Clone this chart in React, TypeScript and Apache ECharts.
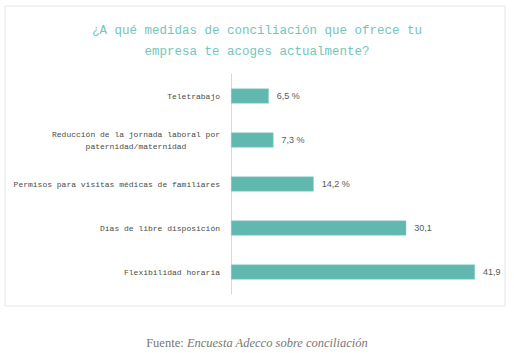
import React, { useEffect, useRef } from "react";
import * as echarts from "echarts";

const categories = [
  "Teletrabajo",
  "Reducción de la jornada laboral por\npaternidad/maternidad",
  "Permisos para visitas médicas de familiares",
  "Días de libre disposición",
  "Flexibilidad horaria",
];
const values = [6.5, 7.3, 14.2, 30.1, 41.9];
const valueLabels = ["6,5 %", "7,3 %", "14,2 %", "30,1", "41,9"];
const titleText = "¿A qué medidas de conciliación que ofrece tu\nempresa te acoges actualmente?";
const sourcePrefix = "Fuente: ";
const sourceText = "Encuesta Adecco sobre conciliación";

export default function App() {
  const ref = useRef<HTMLDivElement>(null);
  useEffect(() => {
    document.body.style.margin = "0";
    const chart = echarts.init(ref.current!, null, { renderer: "svg" });
    chart.setOption({
      animation: false,
      backgroundColor: "#ffffff",
      graphic: [
        {
          type: "rect",
          shape: { x: 5, y: 6, width: 500, height: 300 },
          style: { fill: "none", stroke: "#e6e6e6", lineWidth: 1 },
          silent: true,
        },
      ],
      title: [
        {
          text: titleText,
          left: "center",
          top: 15,
          textStyle: {
            fontFamily: "Liberation Mono",
            fontSize: 12.5,
            fontWeight: "normal",
            color: "#72c6bd",
            lineHeight: 21,
            align: "center",
          },
        },
        {
          text: "{a|" + sourcePrefix + "}{b|" + sourceText + "}",
          left: "center",
          top: 331,
          textStyle: {
            fontWeight: "normal",
            rich: {
              a: { fontFamily: "Liberation Serif", fontSize: 12.5, fontWeight: "normal", color: "#777777" },
              b: {
                fontFamily: "Liberation Serif",
                fontSize: 12.5,
                fontWeight: "normal",
                color: "#777777",
                fontStyle: "italic",
              },
            },
          },
        },
      ],
      grid: { left: 231, right: 21, top: 74, bottom: 59, containLabel: false },
      xAxis: {
        type: "value",
        min: 0,
        max: 45,
        show: false,
      },
      yAxis: {
        type: "category",
        inverse: true,
        data: categories,
        axisLine: { show: true, lineStyle: { color: "#d9d9d9", width: 1 } },
        axisTick: { show: false },
        axisLabel: {
          margin: 11,
          formatter: (v: string) => v.split("\n").map((s) => "{a|" + s + "}").join("\n"),
          rich: {
            a: {
              fontFamily: "Liberation Mono",
              fontSize: 8,
              color: "#4a4a4a",
              align: "center",
              lineHeight: 12,
            },
          },
        },
      },
      series: [
        {
          type: "bar",
          data: values,
          barWidth: 15,
          itemStyle: { color: "#60b8ae", borderColor: "#8fd0c8", borderWidth: 0.5 },
          label: {
            show: true,
            position: "right",
            distance: 8,
            formatter: (p: any) => valueLabels[p.dataIndex],
            fontFamily: "Liberation Sans",
            fontSize: 9,
            color: "#595959",
          },
        },
      ],
    });
    return () => chart.dispose();
  }, []);
  return (
    <div
      ref={ref}
      style={{ position: "absolute", left: 0, top: 0, width: 514, height: 353 }}
    />
  );
}
